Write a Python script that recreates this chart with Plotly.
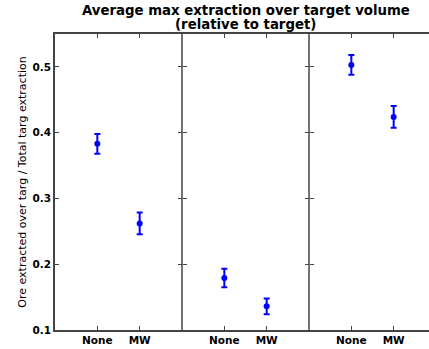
import plotly.graph_objects as go

conditions = ["None", "MW"]
panel_means = [[0.383, 0.262], [0.179, 0.136], [0.503, 0.424]]
panel_errs = [[0.015, 0.0165], [0.014, 0.012], [0.015, 0.0165]]
y_ticks = [0.1, 0.2, 0.3, 0.4, 0.5]
title_lines = ["Average max extraction over target volume", "(relative to target)"]

W, H = 429, 349
ML, MR, MT, MB = 55, 0, 34, 19
panel_px = 127
n_cond = len(conditions)
span = n_cond + 1
plot_w = W - ML - MR
x_max = span * plot_w / panel_px

fig = go.Figure()
xs, ys, es = [], [], []
tickvals, ticktext = [], []
for i, (m, e) in enumerate(zip(panel_means, panel_errs)):
    for j, c in enumerate(conditions):
        xs.append(span * i + j + 1)
        ys.append(m[j])
        es.append(e[j])
        tickvals.append(span * i + j + 1)
        ticktext.append(c)

fig.add_trace(go.Scatter(
    x=xs, y=ys, mode="markers",
    marker=dict(color="#0000ff", size=6),
    error_y=dict(type="data", array=es, color="#0000ff", thickness=2, width=3),
    showlegend=False,
))

line_col = "#444444"
font_fam = "DejaVu Sans"

for i in range(1, len(panel_means)):
    fig.add_shape(type="line", xref="x", yref="paper", x0=span * i, x1=span * i,
                  y0=0, y1=1, line=dict(color=line_col, width=1.5))

# ticks on the dividers (both sides)
extra = {}
k = 2
for i in range(1, len(panel_means)):
    pos = span * i / x_max
    for side in ("left", "right"):
        extra[f"yaxis{k}"] = dict(overlaying="y", matches="y", anchor="free", position=pos,
                                  side=side, ticks="inside", ticklen=4, tickcolor=line_col,
                                  tickvals=y_ticks, showticklabels=False, showgrid=False,
                                  showline=False, zeroline=False)
        fig.add_trace(go.Scatter(x=[None], y=[None], yaxis=f"y{k}", showlegend=False))
        k += 1

# title centred over the full (partly off-screen) axes
full_w = 3 * panel_px
title_x = (full_w / 2) / plot_w
for line, shift in zip(title_lines, [15, 1]):
    fig.add_annotation(text=line, xref="paper", yref="paper", x=title_x, y=1,
                       xanchor="center", yanchor="bottom", yshift=shift, showarrow=False,
                       borderpad=0,
                       font=dict(family=font_fam, size=13.3, color="black", weight="bold"))

fig.update_layout(
    width=W, height=H,
    margin=dict(l=ML, r=MR, t=MT, b=MB),
    paper_bgcolor="white", plot_bgcolor="white",
    xaxis=dict(range=[0, x_max], tickvals=tickvals, ticktext=ticktext,
               ticks="inside", ticklen=4, tickcolor=line_col, mirror="ticks",
               showline=True, linecolor=line_col, linewidth=1.5, showgrid=False, zeroline=False,
               tickfont=dict(family=font_fam, size=10.5, color="black", weight="bold")),
    yaxis=dict(range=[0.1, 0.55], tickvals=y_ticks, tickformat=".1f",
               ticks="inside", ticklen=4, tickcolor=line_col,
               showline=True, linecolor=line_col, linewidth=1.5, showgrid=False, zeroline=False,
               tickfont=dict(family=font_fam, size=10.5, color="black", weight="bold"),
               title=dict(text="Ore extracted over targ / Total targ extraction",
                          font=dict(family=font_fam, size=11, color="black"), standoff=4)),
    **extra,
)

fig.write_html("out.html")
